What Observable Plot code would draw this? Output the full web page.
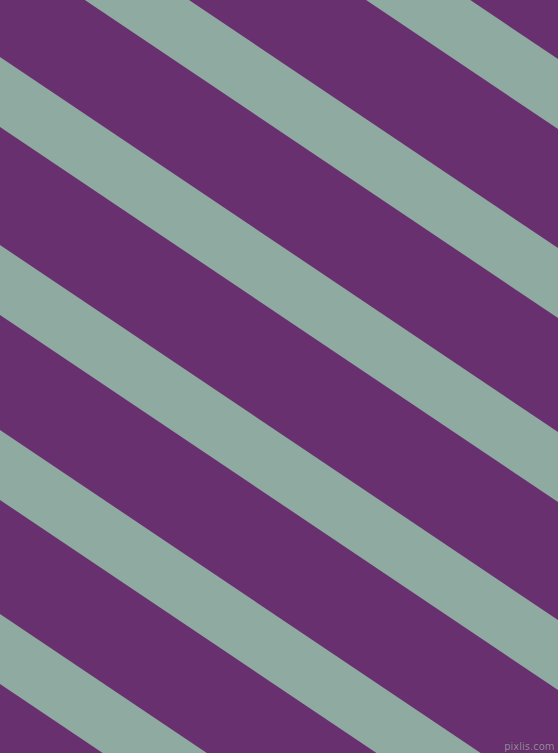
<!DOCTYPE html>
<html>
<head>
<meta charset="utf-8">
<script src="https://cdn.jsdelivr.net/npm/d3@7"></script>
<script src="https://cdn.jsdelivr.net/npm/@observablehq/plot@0.6"></script>
<style>
  html, body { margin: 0; padding: 0; background: #69306F; }
  #chart svg { display: block; }
</style>
</head>
<body>
<div id="chart"></div>
<script>
// Stripe geometry (pixel units of the 558x753 canvas)
const stripeTopAtLeft = [-316, -127, 57, 245, 430, 614]; // y of each stripe's upper edge at x = 0
const stripeSlope = 0.672;      // dy/dx of the stripes
const stripeThickness = 70;     // vertical thickness of a stripe
const xEnds = [0, 558];
const watermark = ["pixlis.com"];

const bg = "#69306F";
const stripeColor = "#8FAAA1";

const rows = stripeTopAtLeft.flatMap((b, i) =>
  xEnds.map(x => ({stripe: i, x, y1: b + stripeSlope * x, y2: b + stripeThickness + stripeSlope * x}))
);

const chart = Plot.plot({
  width: 558,
  height: 753,
  margin: 0,
  style: {background: bg},
  x: {domain: [0, 558], axis: null},
  y: {domain: [0, 753], reverse: true, axis: null},
  marks: [
    Plot.areaY(rows, {x: "x", y1: "y1", y2: "y2", z: "stripe", fill: stripeColor, clip: true, curve: "linear"}),
    Plot.text(watermark, {
      text: d => d, frameAnchor: "bottom-right", dx: -4, dy: -4,
      fontSize: 10, fontFamily: "DejaVu Sans", fill: "#9d8aa2", stroke: "#4e2354", strokeWidth: 0.6, paintOrder: "stroke"
    })
  ]
});
document.getElementById("chart").appendChild(chart);
</script>
</body>
</html>
